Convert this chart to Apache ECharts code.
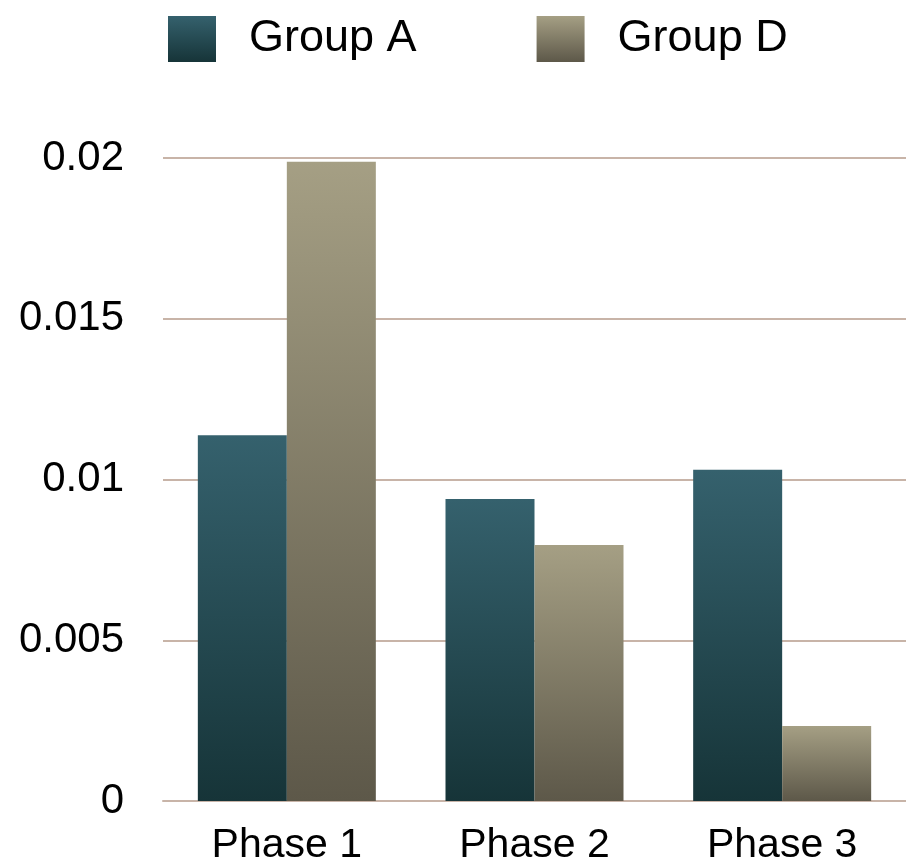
<!DOCTYPE html>
<html>
<head>
<meta charset="utf-8">
<script src="https://cdn.jsdelivr.net/npm/echarts@6/dist/echarts.min.js"></script>
<style>
  html, body { margin: 0; padding: 0; background: #ffffff; }
  #chart { width: 906px; height: 866px; }
</style>
</head>
<body>
<div id="chart"></div>
<script>
// Categories and series values
const categories = ['Phase 1', 'Phase 2', 'Phase 3'];
const groupA = [0.01138, 0.00939, 0.0103];
const groupD = [0.01988, 0.00796, 0.00233];
const seriesNames = ['Group A', 'Group D'];
const yTicks = [0, 0.005, 0.01, 0.015, 0.02];

function vGrad(top, bottom) {
  return new echarts.graphic.LinearGradient(0, 0, 0, 1, [
    { offset: 0, color: top },
    { offset: 1, color: bottom }
  ]);
}

const chart = echarts.init(document.getElementById('chart'), null, { renderer: 'canvas' });
const fontFamily = '"Liberation Sans", Arial, Helvetica, sans-serif';

chart.setOption({
  animation: false,
  backgroundColor: '#ffffff',
  legend: {
    left: 163,
    top: 11,
    itemWidth: 48,
    itemHeight: 46,
    itemGap: 120,
    icon: 'rect',
    textStyle: {
      fontFamily: fontFamily,
      fontSize: 45,
      color: '#000000',
      padding: [0, 0, 0, 28]
    },
    data: seriesNames
  },
  grid: {
    left: 163,
    right: -2,
    top: 158,
    bottom: 65
  },
  xAxis: {
    type: 'category',
    data: categories,
    axisLine: { show: true, lineStyle: { color: '#c8b4a8', width: 2 } },
    axisTick: { show: false },
    axisLabel: {
      fontFamily: fontFamily,
      fontSize: 41,
      color: '#000000',
      margin: 24
    }
  },
  yAxis: {
    type: 'value',
    min: yTicks[0],
    max: yTicks[yTicks.length - 1],
    interval: yTicks[1] - yTicks[0],
    axisLine: { show: false },
    axisTick: { show: false },
    splitLine: { show: true, lineStyle: { color: '#c8b4a8', width: 2 } },
    axisLabel: {
      fontFamily: fontFamily,
      fontSize: 42,
      color: '#000000',
      margin: 39,
      formatter: function (v) { return String(v); }
    }
  },
  series: [
    {
      name: seriesNames[0],
      type: 'bar',
      data: groupA,
      barWidth: 89,
      barGap: '0%',
      itemStyle: { color: vGrad('#35616d', '#163438') }
    },
    {
      name: seriesNames[1],
      type: 'bar',
      data: groupD,
      barWidth: 89,
      barGap: '0%',
      itemStyle: { color: vGrad('#a59f84', '#5d5849') }
    }
  ]
});
</script>
</body>
</html>
